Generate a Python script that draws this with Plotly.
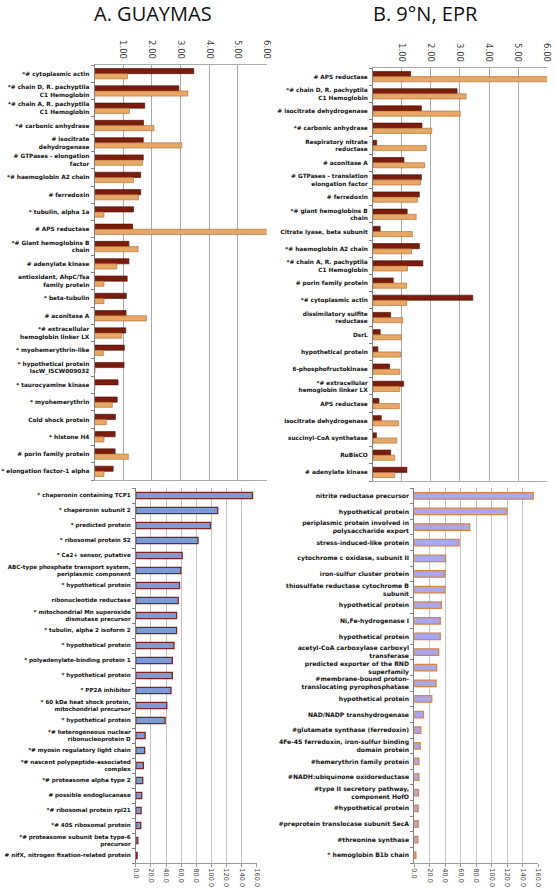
import plotly.graph_objects as go

W, H = 556, 892

# ---------------- data ----------------
tl_labels = [
    "*# cytoplasmic actin",
    "*# chain D, R. pachyptila<br>C1 Hemoglobin",
    "*# chain A, R. pachyptila<br>C1 Hemoglobin",
    "*# carbonic anhydrase",
    "# isocitrate<br>dehydrogenase",
    "# GTPases - elongation<br>factor",
    "*# haemoglobin A2 chain",
    "# ferredoxin",
    "* tubulin, alpha 1a",
    "# APS reductase",
    "*# Giant hemoglobins B<br>chain",
    "# adenylate kinase",
    "antioxidant, AhpC/Tsa<br>family protein",
    "* beta-tubulin",
    "# aconitase A",
    "*# extracellular<br>hemoglobin linker LX",
    "* myohemerythrin-like",
    "* hypothetical protein<br>IscW_ISCW009032",
    "* taurocyamine kinase",
    "* myohemerythrin",
    "Cold shock protein",
    "* histone H4",
    "# porin family protein",
    "* elongation factor-1 alpha",
]
tl_red = [3.46, 2.94, 1.75, 1.71, 1.70, 1.70, 1.61, 1.61, 1.36, 1.33, 1.20, 1.20,
          1.14, 1.11, 1.10, 1.09, 1.04, 1.03, 0.82, 0.79, 0.73, 0.72, 0.72, 0.65]
tl_tan = [1.15, 3.25, 1.22, 2.07, 3.04, 1.67, 1.36, 1.53, 0.33, 6.40, 1.52, 0.78,
          0.33, 0.33, 1.81, 0.95, 0.31, 0.02, 0.01, 0.62, 0.41, 0.33, 1.18, 0.33]

tr_labels = [
    "# APS reductase",
    "*# chain D, R. pachyptila<br>C1 Hemoglobin",
    "# isocitrate dehydrogenase",
    "*# carbonic anhydrase",
    "Respiratory nitrate<br>reductase",
    "# aconitase A",
    "# GTPases - translation<br>elongation factor",
    "# ferredoxin",
    "*# giant hemoglobins B<br>chain",
    "Citrate lyase, beta subunit",
    "*# haemoglobin A2 chain",
    "*# chain A, R. pachyptila<br>C1 Hemoglobin",
    "# porin family protein",
    "*# cytoplasmic actin",
    "dissimilatory sulfite<br>reductase",
    "DsrL",
    "hypothetical protein",
    "6-phosphofructokinase",
    "*# extracellular<br>hemoglobin linker LX",
    "APS reductase",
    "isocitrate dehydrogenase",
    "succinyl-CoA synthetase",
    "RuBisCO",
    "# adenylate kinase",
]
tr_red = [1.30, 2.90, 1.67, 1.69, 0.13, 1.07, 1.67, 1.60, 1.18, 0.25, 1.60, 1.72,
          0.70, 3.44, 0.61, 0.25, 0.17, 0.57, 1.06, 0.21, 0.29, 0.12, 0.61, 1.17]
tr_tan = [6.40, 3.21, 3.01, 2.03, 1.84, 1.78, 1.64, 1.53, 1.49, 1.36, 1.33, 1.19,
          1.16, 1.16, 1.03, 0.98, 0.96, 0.93, 0.93, 0.91, 0.88, 0.82, 0.75, 0.75]

bl_labels = [
    "* chaperonin containing TCP1",
    "* chaperonin subunit 2",
    "* predicted protein",
    "* ribosomal protein S2",
    "* Ca2+ sensor, putative",
    "ABC-type phosphate transport system,<br>periplasmic component",
    "* hypothetical protein",
    "ribonucleotide reductase",
    "* mitochondrial Mn superoxide<br>dismutase precursor",
    "* tubulin, alpha 2 isoform 2",
    "* hypothetical protein",
    "* polyadenylate-binding protein 1",
    "* hypothetical protein",
    "* PP2A inhibitor",
    "* 60 kDa heat shock protein,<br>mitochondrial precursor",
    "* hypothetical protein",
    "*# heterogeneous nuclear<br>ribonucleoprotein D",
    "*# myosin regulatory light chain",
    "*# nascent polypeptide-associated<br>complex",
    "*# proteasome alpha type 2",
    "# possible endoglucanase",
    "*# ribosomal protein rpl21",
    "*# 40S ribosomal protein",
    "*# proteasome subunit beta type-6<br>precursor",
    "# nifX, nitrogen fixation-related protein",
]
bl_values = [154.3, 108.3, 98.7, 82.2, 61.3, 59.6, 57.8, 56.1, 53.9, 53.9, 50.4,
             48.3, 48.3, 46.5, 40.9, 38.7, 12.2, 11.7, 10.0, 9.1, 7.8, 7.0, 6.5,
             2.6, 1.7]

br_labels = [
    "nitrite reductase precursor",
    "hypothetical protein",
    "periplasmic protein involved in<br>polysaccharide export",
    "stress-induced-like protein",
    "cytochrome c oxidase, subunit II",
    "iron-sulfur cluster protein",
    "thiosulfate reductase cytochrome B<br>subunit",
    "hypothetical protein",
    "Ni,Fe-hydrogenase I",
    "hypothetical protein",
    "acetyl-CoA carboxylase carboxyl<br>transferase",
    "predicted exporter of the RND<br>superfamily",
    "#membrane-bound proton-<br>translocating pyrophosphatase",
    "hypothetical protein",
    "NAD/NADP transhydrogenase",
    "#glutamate synthase (ferredoxin)",
    "4Fe-4S ferredoxin, iron-sulfur binding<br>domain protein",
    "#hemerythrin family protein",
    "#NADH:ubiquinone oxidoreductase",
    "#type II secretory pathway,<br>component HofO",
    "#hypothetical protein",
    "#preprotein translocase subunit SecA",
    "#threonine synthase",
    "* hemoglobin B1b chain",
]
br_values = [153.6, 119.6, 71.5, 57.9, 40.4, 39.6, 39.6, 34.9, 33.6, 33.6, 31.5,
             28.9, 28.1, 22.6, 11.9, 8.5, 7.7, 6.0, 6.0, 5.5, 5.1, 5.1, 4.7, 2.1]

top_ticks = [1, 2, 3, 4, 5, 6]
top_ticktext = ["1.00", "2.00", "3.00", "4.00", "5.00", "6.00"]
bottom_ticks = [0, 20, 40, 60, 80, 100, 120, 140, 160]

titles = ["A. GUAYMAS", "B. 9°N, EPR"]

# ---------------- styling ----------------
RED = "#7b1d0c"
RED_LINE = "#4a0c04"
TAN = "#e9a765"
TAN_LINE = "#a8672e"
BLUE = "#7f9bd6"
BLUE_LINE = "#7a2626"
LAV = "#aaa6ef"
LAV_LINE = "#d7843f"

LABEL_FONT = dict(family="DejaVu Sans", size=5.8, color="#111111", weight="bold")


def px_dom_x(a, b):
    return [a / W, b / W]


def px_dom_y(top, bottom):
    return [1 - bottom / H, 1 - top / H]


fig = go.Figure()

# top left
idx = list(range(len(tl_labels)))
fig.add_trace(go.Bar(y=idx, x=tl_red, orientation="h", width=0.3, offset=-0.3,
                     marker=dict(color=RED, line=dict(color=RED_LINE, width=0.6)),
                     xaxis="x", yaxis="y", showlegend=False))
fig.add_trace(go.Bar(y=idx, x=tl_tan, orientation="h", width=0.3, offset=0.0,
                     marker=dict(color=TAN, line=dict(color=TAN_LINE, width=0.6)),
                     xaxis="x", yaxis="y", showlegend=False))
# top right
idx2 = list(range(len(tr_labels)))
fig.add_trace(go.Bar(y=idx2, x=tr_red, orientation="h", width=0.3, offset=-0.3,
                     marker=dict(color=RED, line=dict(color=RED_LINE, width=0.6)),
                     xaxis="x2", yaxis="y2", showlegend=False))
fig.add_trace(go.Bar(y=idx2, x=tr_tan, orientation="h", width=0.3, offset=0.0,
                     marker=dict(color=TAN, line=dict(color=TAN_LINE, width=0.6)),
                     xaxis="x2", yaxis="y2", showlegend=False))
# bottom left
idx3 = list(range(len(bl_labels)))
fig.add_trace(go.Bar(y=idx3, x=bl_values, orientation="h", width=0.42,
                     marker=dict(color=BLUE, line=dict(color=BLUE_LINE, width=1.3)),
                     xaxis="x3", yaxis="y3", showlegend=False))
# bottom right
idx4 = list(range(len(br_labels)))
fig.add_trace(go.Bar(y=idx4, x=br_values, orientation="h", width=0.42,
                     marker=dict(color=LAV, line=dict(color=LAV_LINE, width=1.3)),
                     xaxis="x4", yaxis="y4", showlegend=False))


def top_x(dom, anchor):
    return dict(domain=dom, anchor=anchor, side="top", range=[0, 6],
                tickvals=top_ticks, ticktext=top_ticktext, tickangle=90,
                tickfont=dict(family="DejaVu Sans", size=8.5, color="#404040"),
                showgrid=True, gridcolor="#a9a9a9", gridwidth=1,
                showline=True, linecolor="#a9a9a9", linewidth=1, mirror=True,
                ticks="outside", ticklen=2, tickcolor="rgba(0,0,0,0)",
                zeroline=False, fixedrange=True)


def bottom_x(dom, anchor):
    return dict(domain=dom, anchor=anchor, side="bottom", range=[0, 160],
                tickvals=bottom_ticks, tickformat=".1f", tickangle=90,
                tickfont=dict(family="DejaVu Sans", size=6.6, color="#404040"),
                showgrid=True, gridcolor="#c4c4c4", gridwidth=1,
                showline=True, linecolor="#9a9a9a", linewidth=1,
                ticks="outside", ticklen=3, tickcolor="#9a9a9a",
                zeroline=False, fixedrange=True)


def cat_y(dom, anchor, labels, size=5.8, mirror=False):
    n = len(labels)
    return dict(domain=dom, anchor=anchor, range=[n - 0.5, -0.5],
                tickvals=list(range(n)), ticktext=labels,
                tickfont=dict(LABEL_FONT, size=size),
                ticks="outside", ticklen=3, tickcolor="rgba(0,0,0,0)",
                minor=dict(ticks="outside", ticklen=3, tickcolor="#808080",
                           tickmode="linear", tick0=0.5, dtick=1, showgrid=False),
                showgrid=False, zeroline=False,
                showline=True, linecolor="#808080", linewidth=1,
                mirror=mirror, fixedrange=True)


fig.update_layout(
    width=W, height=H,
    margin=dict(l=0, r=0, t=0, b=0),
    paper_bgcolor="white", plot_bgcolor="white",
    barmode="overlay",
    hovermode=False,
    xaxis=top_x(px_dom_x(92, 267), "y"),
    yaxis=cat_y(px_dom_y(65, 480), "x", tl_labels),
    xaxis2=top_x(px_dom_x(375, 552), "y2"),
    yaxis2=cat_y(px_dom_y(68, 481), "x2", tr_labels),
    xaxis3=bottom_x(px_dom_x(134, 257), "y3"),
    yaxis3=cat_y(px_dom_y(488, 863), "x3", bl_labels, size=5.6),
    xaxis4=bottom_x(px_dom_x(417, 543), "y4"),
    yaxis4=cat_y(px_dom_y(488, 863), "x4", br_labels, size=6.1),
    annotations=[
        dict(text=titles[0], x=151 / W, y=1 - 13.5 / H, xref="paper", yref="paper",
             xanchor="center", yanchor="middle", showarrow=False,
             font=dict(family="Open Sans", size=20, color="#111111")),
        dict(text=titles[1], x=428 / W, y=1 - 13.5 / H, xref="paper", yref="paper",
             xanchor="center", yanchor="middle", showarrow=False,
             font=dict(family="Open Sans", size=20, color="#111111")),
    ],
)

fig.write_html("out.html",
               config={"displayModeBar": False, "staticPlot": True},
               post_script="document.body.style.margin='0';"
                           "document.body.style.overflow='hidden';")
